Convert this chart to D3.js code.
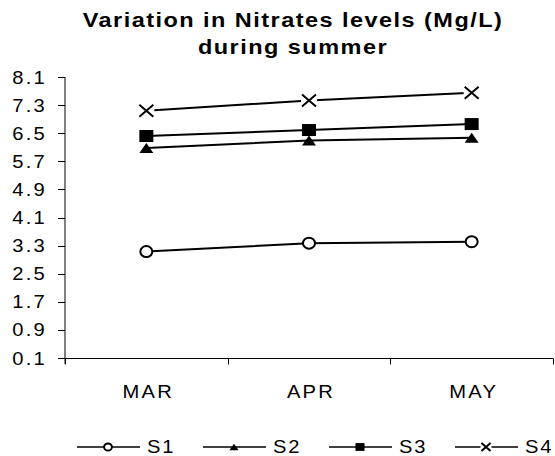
<!DOCTYPE html>
<html>
<head>
<meta charset="utf-8">
<script src="https://cdn.jsdelivr.net/npm/d3@7"></script>
<style>
  body { margin: 0; background: #fff; }
  svg { display: block; }
  text { font-family: "Liberation Sans", Arial, sans-serif; fill: #000; }
</style>
</head>
<body>
<div id="chart"></div>
<script>
// data
const months = ["MAR", "APR", "MAY"];
const seriesNames = ["S1", "S2", "S3", "S4"];
const s1 = [3.13, 3.37, 3.41];
const s2 = [6.08, 6.29, 6.37];
const s3 = [6.42, 6.59, 6.76];
const s4 = [7.14, 7.43, 7.65];
const yTicks = [0.1, 0.9, 1.7, 2.5, 3.3, 4.1, 4.9, 5.7, 6.5, 7.3, 8.1];
const titleLines = ["Variation in Nitrates levels (Mg/L)", "during summer"];
const markerTypes = ["circle", "triangle", "square", "x"];

(function () {
    let width = 555, height = 456;
    let sx = 1.12; // the original picture is a bit stretched sideways
    let margin = { left: 65, right: 2, top: 77, bottom: 98 };

    let svg = d3.select("#chart").append("svg")
        .attr("width", width)
        .attr("height", height);

    let x = d3.scaleBand().domain(months).range([margin.left, width - margin.right]);
    let y = d3.scaleLinear().domain([yTicks[0], yTicks[yTicks.length - 1]])
        .range([height - margin.bottom, margin.top]);

    function label(g, txt, px, py, size, anchor, weight, spacing) {
        return g.append("text")
            .attr("transform", "translate(" + px + "," + py + ") scale(" + sx + ",1)")
            .attr("text-anchor", anchor)
            .style("font-size", size + "px")
            .style("font-weight", weight || "normal")
            .style("letter-spacing", (spacing || 0) + "px")
            .text(txt);
    }

    // title
    titleLines.forEach((t, i) => {
        label(svg, t, 293, 27 + i * 27, 21, "middle", "bold", 1.3);
    });

    // y axis
    let yAxis = svg.append("g").attr("transform", "translate(" + margin.left + ",0)");
    yAxis.append("line")
        .attr("y1", y.range()[1]).attr("y2", y.range()[0] + 6)
        .attr("stroke", "#000").attr("stroke-width", 1);
    yTicks.forEach(v => {
        yAxis.append("line")
            .attr("x1", -7).attr("x2", 0)
            .attr("y1", Math.round(y(v)) + 0.5).attr("y2", Math.round(y(v)) + 0.5)
            .attr("stroke", "#000");
        label(yAxis, v.toFixed(1), -18, y(v) + 6.5, 18, "end", "normal", 2);
    });

    // x axis
    let xAxis = svg.append("g").attr("transform", "translate(0," + (y.range()[0] + 0.5) + ")");
    xAxis.append("line")
        .attr("x1", x.range()[0]).attr("x2", x.range()[1])
        .attr("stroke", "#000");
    let bounds = months.map(m => x(m)).concat([x.range()[1]]);
    bounds.forEach(b => {
        xAxis.append("line")
            .attr("x1", Math.round(b) + 0.5).attr("x2", Math.round(b) + 0.5)
            .attr("y1", 0).attr("y2", 6)
            .attr("stroke", "#000");
    });
    months.forEach(m => {
        label(xAxis, m, x(m) + x.bandwidth() / 2 + 2, 39, 18, "middle", "normal", 2);
    });

    function marker(g, type, cx, cy, k) {
        let m = g.append("g").attr("transform", "translate(" + cx + "," + cy + ")");
        if (type == "circle") {
            m.append("ellipse").attr("rx", 6 * k).attr("ry", 5.5 * k)
                .attr("fill", "#fff").attr("stroke", "#000").attr("stroke-width", 2);
        } else if (type == "triangle") {
            let w = 7 * k, h = 10 * k;
            m.append("path")
                .attr("d", "M0," + (-h / 2) + "L" + w + "," + (h / 2) + "L" + (-w) + "," + (h / 2) + "Z")
                .attr("fill", "#000");
        } else if (type == "square") {
            m.append("rect").attr("x", -7 * k).attr("y", -6 * k)
                .attr("width", 14 * k).attr("height", 12 * k).attr("fill", "#000");
        } else {
            let w = 7 * k, h = 6 * k;
            m.append("rect").attr("x", -w - 1).attr("y", -h - 1)
                .attr("width", 2 * w + 2).attr("height", 2 * h + 2).attr("fill", "#fff");
            m.append("path")
                .attr("d", "M" + (-w) + "," + (-h) + "L" + w + "," + h + "M" + (-w) + "," + h + "L" + w + "," + (-h))
                .attr("stroke", "#000").attr("stroke-width", 2).attr("fill", "none");
        }
    }

    // series
    let allSeries = [s1, s2, s3, s4];
    let line = d3.line()
        .x((d, i) => x(months[i]) + x.bandwidth() / 2)
        .y(d => y(d));
    let plot = svg.append("g");
    allSeries.forEach((vals, si) => {
        plot.append("path")
            .datum(vals)
            .attr("d", line)
            .attr("fill", "none")
            .attr("stroke", "#000")
            .attr("stroke-width", 2);
    });
    allSeries.forEach((vals, si) => {
        vals.forEach((v, i) => {
            marker(plot, markerTypes[si], x(months[i]) + x.bandwidth() / 2, y(v), 1);
        });
    });

    // legend
    let legend = svg.append("g").attr("transform", "translate(77,447)");
    seriesNames.forEach((n, i) => {
        let item = legend.append("g").attr("transform", "translate(" + (i * 126) + ",0)");
        item.append("line").attr("x1", 0).attr("x2", 63)
            .attr("stroke", "#000").attr("stroke-width", 1.5);
        marker(item, markerTypes[i], 31, 0, 0.65);
        label(item, n, 70, 5.5, 18, "start", "normal", 1.5);
    });
})();
</script>
</body>
</html>
